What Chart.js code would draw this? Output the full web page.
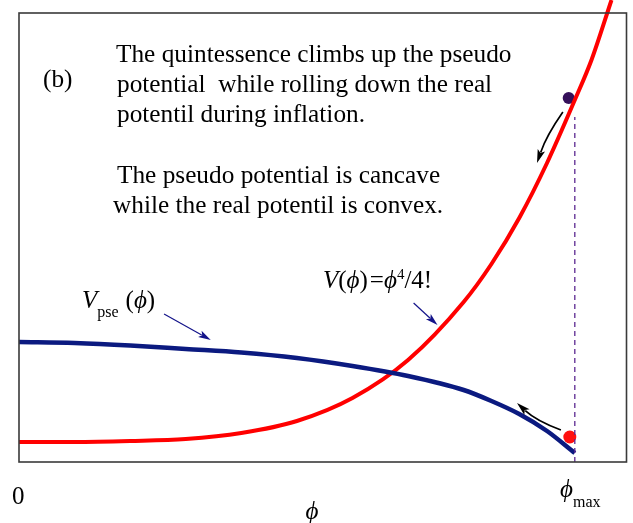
<!DOCTYPE html>
<html>
<head>
<meta charset="utf-8">
<script src="https://cdn.jsdelivr.net/npm/chart.js@4"></script>
<style>
  body { margin: 0; background: #fff; }
  #wrap { width: 633px; height: 523px; position: relative; }
</style>
</head>
<body>
<div id="wrap"><canvas id="chart"></canvas></div>
<script>
// phi in units of phi_max, potentials in arbitrary units
const phiReal = [0, 0.1, 0.2, 0.3, 0.4, 0.5, 0.6, 0.7, 0.8, 0.85, 0.9, 0.95, 1.0, 1.03, 1.066];
const vReal   = [0.20, 0.20, 0.21, 0.23, 0.29, 0.41, 0.64, 1.02, 1.60, 1.98, 2.44, 2.99, 3.62, 4.02, 4.62];

const phiPse = [0, 0.1, 0.2, 0.3, 0.4, 0.5, 0.6, 0.7, 0.8, 0.85, 0.9, 0.95, 1.0];
const vPse   = [1.20, 1.19, 1.165, 1.13, 1.095, 1.04, 0.96, 0.86, 0.72, 0.61, 0.48, 0.31, 0.09];

const phiMax = 1.0;
const dashTop = 3.45;
const ballTop = { x: 0.989, y: 3.64 };     // quintessence on the real potential
const ballBottom = { x: 0.991, y: 0.25 };  // quintessence on the pseudo potential

// annotation arrows, data coordinates [x0, y0, x1, y1, bend]
const labelArrows = [
  [0.261, 1.48, 0.345, 1.22, 0],
  [0.710, 1.59, 0.753, 1.37, 0]
];
const motionArrows = [
  [0.9785, 3.50, 0.932, 2.99, 4],
  [0.975, 0.32, 0.896, 0.59, -5]
];

const toXY = (xs, ys) => xs.map((x, i) => ({ x: x, y: ys[i] }));

const SERIF = '"Liberation Serif", "Times New Roman", serif';

function drawArrow(ctx, x0, y0, x1, y1, bend, color, lw, head) {
  const mx = (x0 + x1) / 2, my = (y0 + y1) / 2;
  const dx = x1 - x0, dy = y1 - y0;
  const len = Math.hypot(dx, dy);
  const cx = mx + (-dy / len) * bend, cy = my + (dx / len) * bend;
  ctx.save();
  ctx.strokeStyle = color;
  ctx.fillStyle = color;
  ctx.lineWidth = lw;
  const ang = Math.atan2(y1 - cy, x1 - cx);
  const bx = x1 - Math.cos(ang) * head * 0.8, by = y1 - Math.sin(ang) * head * 0.8;
  ctx.beginPath();
  ctx.moveTo(x0, y0);
  ctx.quadraticCurveTo(cx, cy, bx, by);
  ctx.stroke();
  ctx.beginPath();
  ctx.moveTo(x1, y1);
  ctx.lineTo(x1 - Math.cos(ang - 0.28) * head, y1 - Math.sin(ang - 0.28) * head);
  ctx.lineTo(x1 - Math.cos(ang) * head * 0.75, y1 - Math.sin(ang) * head * 0.75);
  ctx.lineTo(x1 - Math.cos(ang + 0.28) * head, y1 - Math.sin(ang + 0.28) * head);
  ctx.closePath();
  ctx.fill();
  ctx.restore();
}

function runs(ctx, x, y, parts) {
  let cx = x;
  parts.forEach(p => {
    ctx.font = (p.italic ? 'italic ' : '') + (p.size || 25) + 'px ' + SERIF;
    ctx.fillText(p.t, cx, y + (p.dy || 0));
    cx += ctx.measureText(p.t).width + (p.gap || 0);
  });
}

const decorations = {
  id: 'decorations',
  afterDatasetsDraw(chart) {
    const ctx = chart.ctx;
    const a = chart.chartArea;
    const xs = chart.scales.x, ys = chart.scales.y;
    const X = v => xs.getPixelForValue(v), Y = v => ys.getPixelForValue(v);

    ctx.save();
    ctx.strokeStyle = '#3a3a3a';
    ctx.lineWidth = 1.6;
    ctx.strokeRect(a.left, a.top, a.right - a.left, a.bottom - a.top);

    labelArrows.forEach(r => drawArrow(ctx, X(r[0]), Y(r[1]), X(r[2]), Y(r[3]), r[4], '#14148a', 1.2, 13));
    motionArrows.forEach(r => drawArrow(ctx, X(r[0]), Y(r[1]), X(r[2]), Y(r[3]), r[4], '#000', 1.7, 14));

    ctx.fillStyle = '#000';
    ctx.textBaseline = 'alphabetic';
    ctx.textAlign = 'left';
    ctx.font = '25.3px ' + SERIF;
    ctx.fillText('(b)', 43, 87);
    ctx.fillText('The quintessence climbs up the pseudo', 116, 62);
    ctx.fillText('potential  while rolling down the real', 117, 92);
    ctx.fillText('potentil during inflation.', 117, 122);
    ctx.fillText('The pseudo potential is cancave', 117, 183);
    ctx.fillText('while the real potentil is convex.', 113, 213);

    runs(ctx, 82, 308, [
      { t: 'V', italic: true },
      { t: 'pse', size: 16, dy: 9, gap: 7 },
      { t: '(' },
      { t: '\u03D5', italic: true },
      { t: ')' }
    ]);
    runs(ctx, 323, 288, [
      { t: 'V', italic: true },
      { t: '(' },
      { t: '\u03D5', italic: true },
      { t: ')', gap: 2 },
      { t: '=' },
      { t: '\u03D5', italic: true },
      { t: '4', size: 15, dy: -9 },
      { t: '/4!' }
    ]);

    ctx.font = '25px ' + SERIF;
    ctx.fillText('0', 12, 504);
    runs(ctx, 560, 497, [
      { t: '\u03D5', italic: true },
      { t: 'max', size: 16, dy: 10 }
    ]);
    ctx.font = 'italic 25px ' + SERIF;
    ctx.textAlign = 'center';
    ctx.fillText('\u03D5', 312, 519);
    ctx.restore();
  }
};

new Chart(document.getElementById('chart'), {
  type: 'line',
  data: {
    datasets: [
      {
        label: 'dashed',
        data: toXY([phiMax, phiMax], [0, dashTop]),
        borderColor: '#5b2690',
        borderWidth: 1.3,
        borderDash: [5, 4],
        pointRadius: 0
      },
      {
        label: 'V_pse',
        data: toXY(phiPse, vPse),
        borderColor: '#0b1a80',
        borderWidth: 4.5,
        pointRadius: 0,
        cubicInterpolationMode: 'monotone'
      },
      {
        label: 'V',
        data: toXY(phiReal, vReal),
        borderColor: '#ff0000',
        borderWidth: 4,
        pointRadius: 0,
        cubicInterpolationMode: 'monotone',
        clip: false
      },
      {
        label: 'ball top',
        data: [ballTop],
        showLine: false,
        pointRadius: 6,
        pointBackgroundColor: '#35105a',
        pointBorderWidth: 0
      },
      {
        label: 'ball bottom',
        data: [ballBottom],
        showLine: false,
        pointRadius: 6.5,
        pointBackgroundColor: '#ff1010',
        pointBorderWidth: 0
      }
    ]
  },
  options: {
    responsive: true,
    maintainAspectRatio: false,
    animation: false,
    layout: { padding: { left: 19, top: 13, right: 3, bottom: 61 } },
    scales: {
      x: { type: 'linear', min: 0, max: 1.093, display: false },
      y: { type: 'linear', min: 0, max: 4.49, display: false }
    },
    plugins: { legend: { display: false }, tooltip: { enabled: false } }
  },
  plugins: [decorations]
});
</script>
</body>
</html>
